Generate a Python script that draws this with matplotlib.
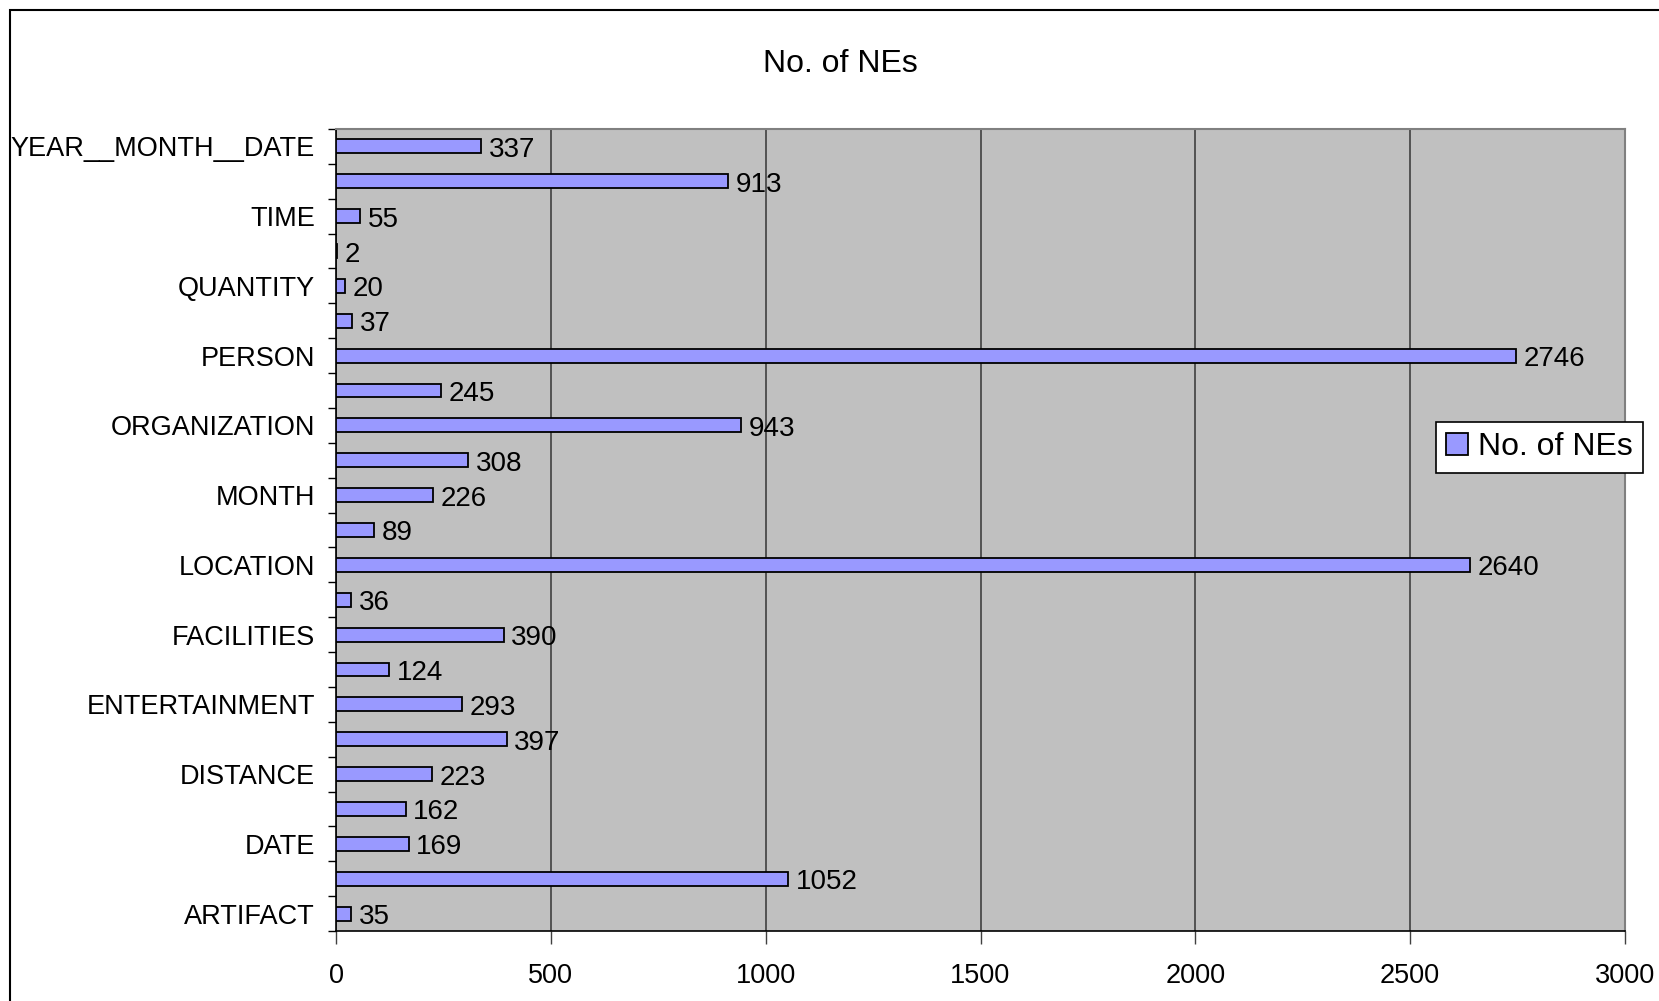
import matplotlib.pyplot as plt
from matplotlib.patches import Rectangle
import numpy as np

plt.rcParams['font.family'] = ['Liberation Sans', 'DejaVu Sans']

# categories from bottom to top; only every other one gets a printed label
labels = ['ARTIFACT', '', 'DATE', '', 'DISTANCE', '', 'ENTERTAINMENT', '',
          'FACILITIES', '', 'LOCATION', '', 'MONTH', '', 'ORGANIZATION', '',
          'PERSON', '', 'QUANTITY', '', 'TIME', '', 'YEAR__MONTH__DATE']
counts = [35, 1052, 169, 162, 223, 397, 293, 124, 390, 36, 2640, 89, 226,
          308, 943, 245, 2746, 37, 20, 2, 55, 913, 337]
series_name = 'No. of NEs'
x_ticks = [0, 500, 1000, 1500, 2000, 2500, 3000]

fig = plt.figure(figsize=(16.59, 10.01), dpi=100)
ax = fig.add_axes([336 / 1659, 1 - 931 / 1001, 1289 / 1659, 802 / 1001])

# outer chart frame
fig.patches.append(Rectangle((10 / 1659, -0.1), 1.2, 1 - 10 / 1001 + 0.1,
                             transform=fig.transFigure, fill=False,
                             edgecolor='black', linewidth=1.5))

y = np.arange(len(counts))
ax.set_facecolor('#c0c0c0')
bars = ax.barh(y, counts, height=0.4, color='#9999ff', edgecolor='black',
               linewidth=1.3, label=series_name, zorder=3)

for yi, v in zip(y, counts):
    ax.text(v + 18, yi - 0.1, str(v), va='center', ha='left', fontsize=20,
            zorder=4)

ax.set_xlim(0, 3000)
ax.set_ylim(-0.5, len(counts) - 0.5)
ax.set_xticks(x_ticks)
ax.set_xticklabels([str(t) for t in x_ticks], fontsize=19.5)
ax.tick_params(axis='x', length=9, width=1, color='#404040', pad=14)
ax.xaxis.grid(True, color='#404040', linewidth=1.2, zorder=1)

# tick marks between categories, names at bar centres
ax.set_yticks(np.arange(-0.5, len(counts), 1.0))
ax.set_yticklabels([])
ax.tick_params(axis='y', length=6, width=1, color='black')
ax.set_yticks(y, minor=True)
ax.set_yticklabels(labels, minor=True, fontsize=19.5)
ax.tick_params(axis='y', which='minor', length=0, pad=15)

for side in ['top', 'right']:
    ax.spines[side].set_color('#808080')
    ax.spines[side].set_linewidth(1.5)
for side in ['left', 'bottom']:
    ax.spines[side].set_color('black')
    ax.spines[side].set_linewidth(1.2)

fig.text(840 / 1659, 1 - 64 / 1001, series_name, ha='center', va='center',
         fontsize=23)

leg = ax.legend(loc='center left', bbox_to_anchor=(0.853, 0.603), fontsize=23,
                frameon=True, fancybox=False, edgecolor='black',
                handlelength=0.7, handleheight=0.7, handletextpad=0.3,
                borderpad=0.33, borderaxespad=0)
leg.get_frame().set_linewidth(1.2)
leg.get_frame().set_alpha(1)
leg.set_zorder(5)

fig.savefig('out.png', dpi=100)
